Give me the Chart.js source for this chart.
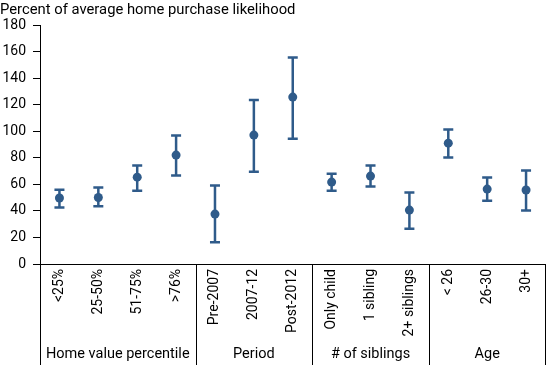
<!DOCTYPE html>
<html>
<head>
<meta charset="utf-8">
<script src="https://cdn.jsdelivr.net/npm/chart.js@4"></script>
<style>
  body { margin: 0; background: #fff; }
</style>
</head>
<body>
<canvas id="chart" width="550" height="365"></canvas>
<script>
const categories = ['<25%', '25-50%', '51-75%', '>76%', 'Pre-2007', '2007-12', 'Post-2012',
  'Only child', '1 sibling', '2+ siblings', '< 26', '26-30', '30+'];
const values = [49.7, 50.1, 65.4, 82, 37.6, 97.1, 125.7, 61.7, 66.2, 40.6, 91, 56.4, 55.7];
const upper = [55.9, 57.6, 74.2, 96.8, 59.2, 123.6, 155.5, 67.9, 74.2, 53.9, 101.3, 65.2, 70.4];
const lower = [42.6, 43.4, 55.2, 66.7, 16.3, 69.5, 94.3, 55.2, 58.4, 26.6, 80.2, 47.6, 40.3];
const groupNames = ['Home value percentile', 'Period', '# of siblings', 'Age'];
const groupSizes = [4, 3, 3, 3];
const yTitle = 'Percent of average home purchase likelihood';

const blue = '#2f5b8a';
const font = 'Roboto';

// error bars, drawn under the dots
const errorBars = {
  id: 'errorBars',
  beforeDatasetsDraw(chart) {
    const { ctx, scales: { x, y } } = chart;
    ctx.save();
    ctx.strokeStyle = blue;
    ctx.lineWidth = 2.5;
    categories.forEach((c, i) => {
      const px = x.getPixelForValue(i);
      const top = y.getPixelForValue(upper[i]);
      const bot = y.getPixelForValue(lower[i]);
      ctx.beginPath();
      ctx.moveTo(px, top); ctx.lineTo(px, bot);
      ctx.moveTo(px - 5, top); ctx.lineTo(px + 5, top);
      ctx.moveTo(px - 5, bot); ctx.lineTo(px + 5, bot);
      ctx.stroke();
    });
    ctx.restore();
  }
};

// group separators, group names and the axis title
const groups = {
  id: 'groups',
  afterDraw(chart) {
    const { ctx, chartArea, scales: { x } } = chart;
    const bottom = chart.height;
    ctx.save();
    ctx.strokeStyle = '#000';
    ctx.lineWidth = 1;
    ctx.fillStyle = '#000';
    ctx.font = '14.5px ' + font;
    ctx.textAlign = 'center';
    ctx.textBaseline = 'middle';
    let start = 0;
    let left = chartArea.left;
    groupSizes.forEach((n, g) => {
      const end = start + n;
      const right = end >= categories.length ? chartArea.right
        : (x.getPixelForValue(end - 1) + x.getPixelForValue(end)) / 2;
      const lx = Math.round(left) + 0.5;
      ctx.beginPath();
      ctx.moveTo(lx, chartArea.bottom); ctx.lineTo(lx, bottom);
      ctx.stroke();
      ctx.fillText(groupNames[g], (left + right) / 2, 354);
      left = right;
      start = end;
    });
    const rx = Math.round(chartArea.right) - 0.5;
    ctx.beginPath();
    ctx.moveTo(rx, chartArea.bottom); ctx.lineTo(rx, bottom);
    ctx.stroke();

    ctx.font = '14.8px ' + font;
    ctx.textAlign = 'left';
    ctx.fillText(yTitle, 0, 10);
    ctx.restore();
  }
};

new Chart(document.getElementById('chart'), {
  type: 'line',
  data: {
    labels: categories,
    datasets: [{
      data: values,
      showLine: false,
      pointRadius: 4.5,
      pointHoverRadius: 4.5,
      pointBackgroundColor: blue,
      pointBorderColor: blue,
      pointBorderWidth: 0
    }]
  },
  options: {
    responsive: false,
    animation: false,
    events: [],
    layout: { padding: { top: 25, right: 1, left: 0, bottom: 0 } },
    plugins: { legend: { display: false }, tooltip: { enabled: false } },
    scales: {
      x: {
        offset: true,
        grid: { display: false, drawTicks: false },
        border: { display: true, color: '#000', width: 1 },
        ticks: {
          minRotation: 90, maxRotation: 90, padding: 5, autoSkip: false,
          color: '#000', font: { family: font, size: 14 }
        },
        afterFit(s) { s.height = 101; }
      },
      y: {
        min: 0, max: 180,
        grid: { drawOnChartArea: false, drawTicks: true, tickLength: 7, color: '#000' },
        border: { display: true, color: '#000', width: 1 },
        ticks: { stepSize: 20, padding: 7, color: '#000', font: { family: font, size: 14 } },
        afterFit(s) { s.width = 40; }
      }
    }
  },
  plugins: [errorBars, groups]
});
</script>
</body>
</html>
